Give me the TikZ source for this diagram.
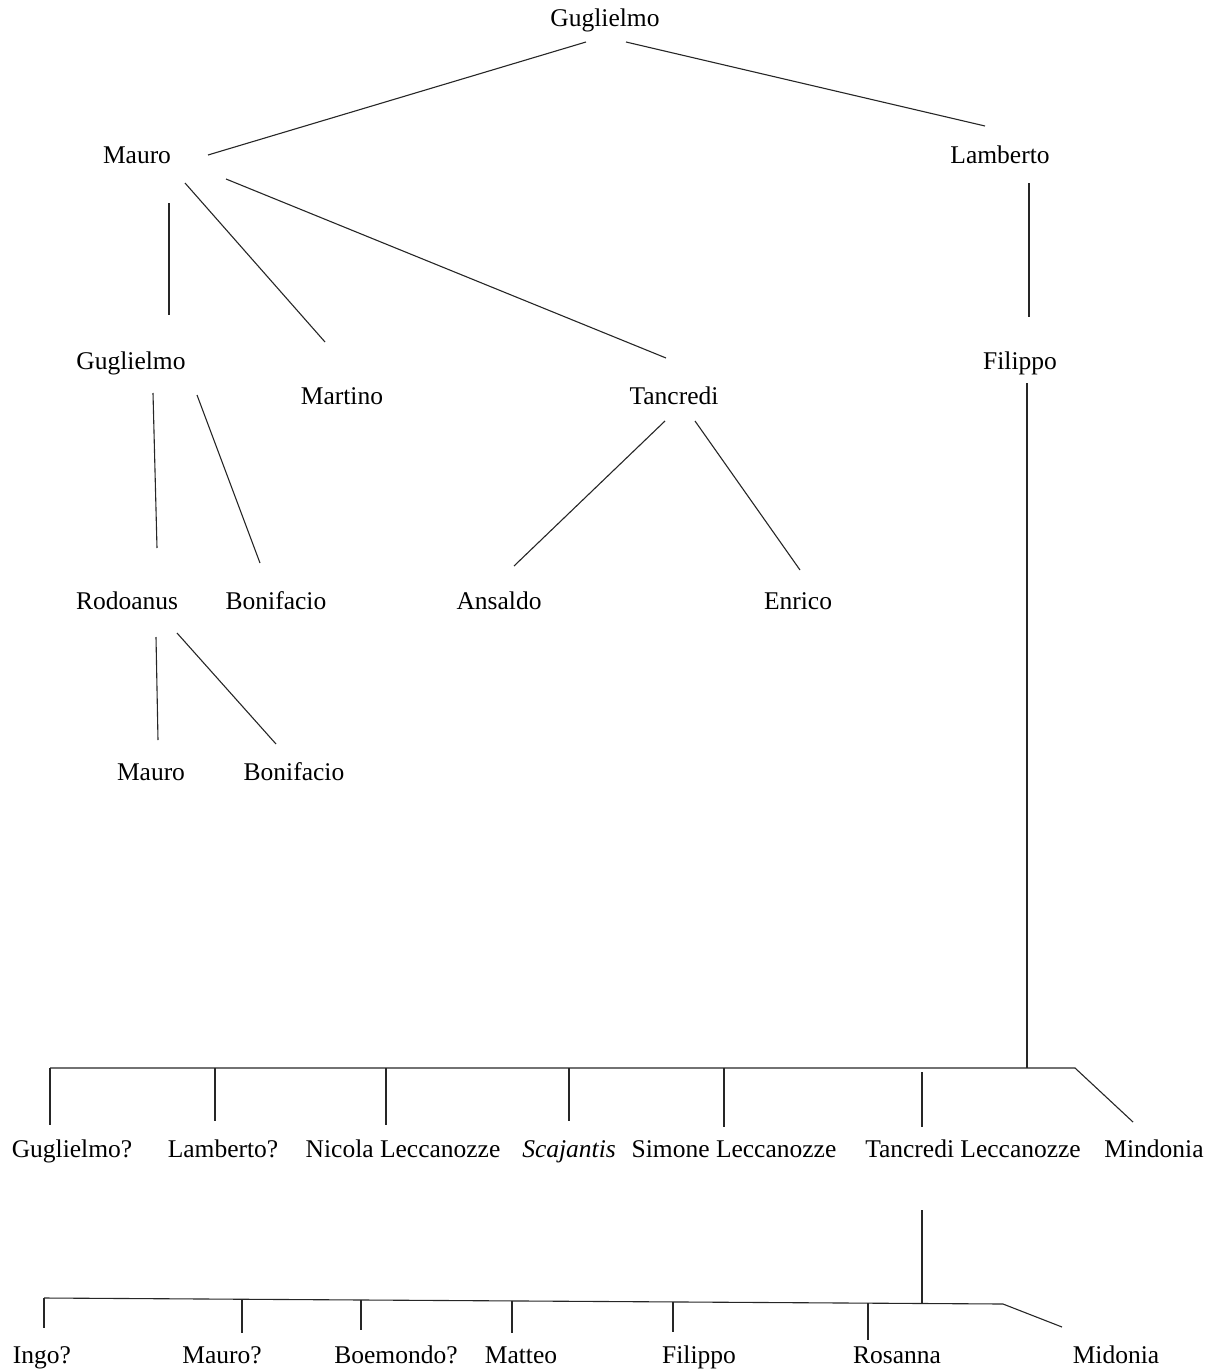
\documentclass[tikz,border=0pt]{standalone}
\usepackage{fontspec}
\setmainfont{Liberation Serif}
\begin{document}
\begin{tikzpicture}[x=1pt,y=-1pt,
  person/.style={anchor=base,inner sep=0pt,font=\fontsize{25.5}{30}\selectfont},
  link/.style={line width=1.1pt,draw=black!85}]
\useasboundingbox (0,0) rectangle (1218,1370);
% names
\node[person] (g1) at (605,27) {Guglielmo};
\node[person] (mauro) at (137,164) {Mauro};
\node[person] (lamb) at (1000,164) {Lamberto};
\node[person] (g2) at (131,369) {Guglielmo};
\node[person] (martino) at (342,404) {Martino};
\node[person] (tanc) at (674,404) {Tancredi};
\node[person] (filippo) at (1020,369) {Filippo};
\node[person] (rodo) at (127,609) {Rodoanus};
\node[person] (boni) at (276,609) {Bonifacio};
\node[person] (ansaldo) at (499,609) {Ansaldo};
\node[person] (enrico) at (798,609) {Enrico};
\node[person] (mauroC) at (151,780) {Mauro};
\node[person] (boniB) at (294,780) {Bonifacio};
% row 1
\node[person] (r1a) at (72,1157) {Guglielmo?};
\node[person] (r1b) at (223,1157) {Lamberto?};
\node[person] (r1c) at (403,1157) {Nicola Leccanozze};
\node[person] (r1d) at (569,1157) {\textit{Scajantis}};
\node[person] (r1e) at (734,1157) {Simone Leccanozze};
\node[person] (r1f) at (973,1157) {Tancredi Leccanozze};
\node[person] (r1g) at (1154,1157) {Mindonia};
% row 2
\node[person] (r2a) at (42,1363) {Ingo?};
\node[person] (r2b) at (222,1363) {Mauro?};
\node[person] (r2c) at (396,1363) {Boemondo?};
\node[person] (r2d) at (521,1363) {Matteo};
\node[person] (r2e) at (699,1363) {Filippo};
\node[person] (r2f) at (897,1363) {Rosanna};
\node[person] (r2g) at (1116,1363) {Midonia};
% upper connectors
\draw[link] (586,42) -- (208,155);
\draw[link] (626,42) -- (985,126);
\draw[link] (169,203) -- (169,315);
\draw[link] (185,183) -- (325,342);
\draw[link] (226,179) -- (666,358);
\draw[link] (1029,183) -- (1029,317);
\draw[link] (153,393) -- (157,548);
\draw[link] (197,395) -- (260,563);
\draw[link] (665,421) -- (514,566);
\draw[link] (695,421) -- (800,570);
\draw[link] (156,637) -- (158,740);
\draw[link] (177,633) -- (276,744);
% Filippo to bar 1
\coordinate (b1) at (1027,1068);
\draw[link] (1027,383) -- (b1);
\draw[link] (50,1068) -- (1075,1068) -- (1133,1122);
\foreach \x/\e in {50/1125,215/1121,386/1125,569/1121,724/1127}
  \draw[link] (\x,1068) -- (\x,\e);
\draw[link] (922,1072) -- (922,1127);
% Tancredi Leccanozze to bar 2
\coordinate (b2L) at (44,1298);
\coordinate (b2R) at (1003,1304);
\draw[link] (922,1210) -- (922,1304);
\draw[link] (b2L) -- (b2R) -- (1062,1327);
\draw[link] (44,1298) -- (44,1328);
\draw[link] (242,1299) -- (242,1333);
\draw[link] (361,1300) -- (361,1330);
\draw[link] (512,1301) -- (512,1333);
\draw[link] (673,1302) -- (673,1332);
\draw[link] (868,1303) -- (868,1340);
\end{tikzpicture}
\end{document}
